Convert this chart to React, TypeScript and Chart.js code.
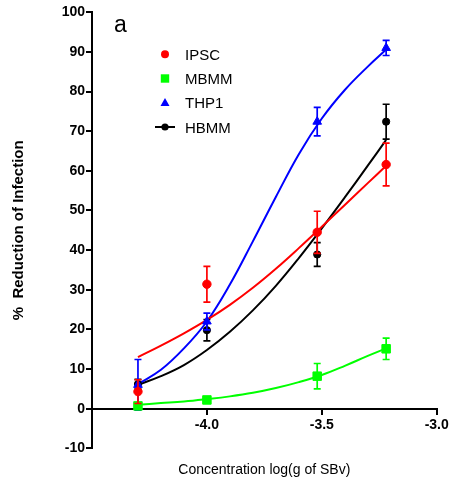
import React, { useEffect, useRef } from 'react';
import { Chart, registerables } from 'chart.js';

Chart.register(...registerables);

// ---- data ----
const doseX = [-4.3, -4.0, -3.52, -3.22];

const ipscMean = [4.3, 31.4, 44.5, 61.6];
const ipscErr = [3.0, 4.5, 5.3, 5.4];
const mbmmMean = [0.7, 2.2, 8.2, 15.1];
const mbmmErr = [0.5, 0.8, 3.2, 2.7];
const thp1Mean = [6.0, 22.0, 72.4, 91.0];
const thp1Err = [6.4, 2.1, 3.6, 1.9];
const hbmmMean = [6.2, 19.8, 38.9, 72.4];
const hbmmErr = [1.2, 2.7, 3.0, 4.4];

const curveX = [-4.3, -4.2, -4.1, -4.0, -3.9, -3.8, -3.7, -3.6, -3.5, -3.4, -3.3, -3.22];
const ipscCurve = [13.0, 15.9, 19.0, 22.4, 26.2, 30.5, 35.3, 40.5, 45.9, 51.4, 56.9, 61.3];
const mbmmCurve = [1.0, 1.4, 1.8, 2.4, 3.1, 4.0, 5.2, 6.7, 8.5, 10.8, 13.3, 15.2];
const thp1Curve = [6.2, 9.8, 15.2, 22.0, 31.3, 42.2, 53.4, 64.2, 73.2, 80.4, 86.3, 90.6];
const hbmmCurve = [6.0, 8.2, 11.0, 14.8, 19.4, 24.8, 31.0, 38.0, 45.5, 53.3, 61.3, 67.8];

const xTicks = [-4.0, -3.5, -3.0];
const yMin = -10;
const yMax = 100;
const yStep = 10;

const seriesNames = ['IPSC', 'MBMM', 'THP1', 'HBMM'];
const seriesColors = ['#ff0000', '#00ff00', '#0000ff', '#000000'];

const panelLabel = 'a';
const xTitle = 'Concentration log(g of SBv)';
const yTitle = '%  Reduction of Infection';

const FONT = '"Liberation Sans", Arial, Helvetica, sans-serif';

const toXY = (xs: number[], ys: number[]) => xs.map((x, i) => ({ x, y: ys[i] }));

const errorBarPlugin = {
  id: 'errorBars',
  beforeDatasetDraw(chart: any, args: any) {
    const ds = chart.data.datasets[args.index] as any;
    if (!ds.errors) return;
    const ctx = chart.ctx;
    const yScale = chart.scales.y;
    ctx.save();
    ctx.strokeStyle = ds.borderColor;
    ctx.lineWidth = 1.7;
    args.meta.data.forEach((pt: any, i: number) => {
      const mean = ds.data[i].y;
      const e = ds.errors[i];
      const yt = yScale.getPixelForValue(mean + e);
      const yb = yScale.getPixelForValue(mean - e);
      const x = pt.x;
      const cap = 3.5;
      ctx.beginPath();
      ctx.moveTo(x, yt);
      ctx.lineTo(x, yb);
      ctx.moveTo(x - cap, yt);
      ctx.lineTo(x + cap, yt);
      ctx.moveTo(x - cap, yb);
      ctx.lineTo(x + cap, yb);
      ctx.stroke();
    });
    ctx.restore();
  },
};

const textPlugin = {
  id: 'freeText',
  afterDraw(chart: any) {
    const ctx = chart.ctx;
    const area = chart.chartArea;
    ctx.save();
    ctx.fillStyle = '#000';

    // panel label
    ctx.font = `23px ${FONT}`;
    ctx.textAlign = 'center';
    ctx.textBaseline = 'alphabetic';
    ctx.fillText(panelLabel, 120.5, 31.5);

    // x title
    ctx.font = `14px ${FONT}`;
    ctx.textAlign = 'center';
    ctx.textBaseline = 'middle';
    ctx.fillText(xTitle, (area.left + area.right) / 2, 470);

    // y title
    ctx.save();
    ctx.translate(18.5, (area.top + area.bottom) / 2);
    ctx.rotate(-Math.PI / 2);
    ctx.font = `bold 15px ${FONT}`;
    ctx.textAlign = 'center';
    ctx.textBaseline = 'middle';
    ctx.fillText(yTitle, 0, 0);
    ctx.restore();

    // legend
    const rows = [54.3, 78.5, 102.7, 127.0];
    const mx = 165;
    ctx.font = `15px ${FONT}`;
    ctx.textAlign = 'left';
    ctx.textBaseline = 'alphabetic';
    seriesNames.forEach((name, i) => {
      const cy = rows[i];
      const col = seriesColors[i];
      ctx.fillStyle = col;
      ctx.strokeStyle = col;
      ctx.beginPath();
      if (i === 0) {
        ctx.arc(mx, cy, 4, 0, Math.PI * 2);
        ctx.fill();
      } else if (i === 1) {
        ctx.fillRect(mx - 4.2, cy - 4.2, 8.4, 8.4);
      } else if (i === 2) {
        ctx.moveTo(mx, cy - 4.8);
        ctx.lineTo(mx + 4.5, cy + 3.2);
        ctx.lineTo(mx - 4.5, cy + 3.2);
        ctx.closePath();
        ctx.fill();
      } else {
        ctx.lineWidth = 2;
        ctx.moveTo(mx - 10, cy);
        ctx.lineTo(mx + 10, cy);
        ctx.stroke();
        ctx.beginPath();
        ctx.arc(mx, cy, 3.6, 0, Math.PI * 2);
        ctx.fill();
      }
      ctx.fillStyle = '#000';
      ctx.fillText(name, 185, cy + 5.5);
    });
    ctx.restore();
  },
};

export default function App() {
  const ref = useRef<HTMLCanvasElement | null>(null);

  useEffect(() => {
    if (!ref.current) return;
    const means = [ipscMean, mbmmMean, thp1Mean, hbmmMean];
    const errs = [ipscErr, mbmmErr, thp1Err, hbmmErr];
    const curves = [ipscCurve, mbmmCurve, thp1Curve, hbmmCurve];
    const styles = ['circle', 'rect', 'triangle', 'circle'];
    const radii = [4.2, 6, 5, 3.6];

    const pointSets = seriesNames.map((name, i) => ({
      label: name,
      data: toXY(doseX, means[i]),
      errors: errs[i],
      showLine: false,
      pointStyle: styles[i],
      pointRadius: radii[i],
      pointBackgroundColor: seriesColors[i],
      pointBorderColor: seriesColors[i],
      pointBorderWidth: 1,
      borderColor: seriesColors[i],
      backgroundColor: seriesColors[i],
    }));
    const curveSets = seriesNames.map((name, i) => ({
      label: name + ' fit',
      data: toXY(curveX, curves[i]),
      showLine: true,
      pointRadius: 0,
      borderWidth: 2,
      borderColor: seriesColors[i],
      backgroundColor: seriesColors[i],
      tension: 0.4,
      fill: false,
    }));

    const chart = new Chart(ref.current, {
      type: 'scatter',
      data: { datasets: [...pointSets, ...curveSets] as any },
      plugins: [errorBarPlugin, textPlugin],
      options: {
        animation: false,
        responsive: false,
        devicePixelRatio: 1,
        layout: { padding: { top: 12.3, right: 12.3, bottom: 34.7, left: 0 } },
        plugins: { legend: { display: false }, tooltip: { enabled: false } },
        scales: {
          x: {
            type: 'linear',
            position: { y: 0 } as any,
            min: -4.5,
            max: -3.0,
            afterBuildTicks: (scale: any) => {
              scale.ticks = xTicks.map((v) => ({ value: v }));
            },
            afterFit: (scale: any) => {
              scale.paddingLeft = 0;
              scale.paddingRight = 0;
            },
            ticks: {
              color: '#000',
              font: { family: FONT, size: 14, weight: 'bold' },
              padding: 3,
              maxRotation: 0,
              autoSkip: false,
              callback: (v: any) => Number(v).toFixed(1),
            },
            grid: { drawOnChartArea: false, color: '#000', lineWidth: 2, tickLength: 5 },
            border: { display: true, color: '#000', width: 2 },
          },
          y: {
            type: 'linear',
            position: 'left',
            min: yMin,
            max: yMax,
            afterFit: (scale: any) => {
              scale.width = 92;
            },
            ticks: {
              stepSize: yStep,
              color: '#000',
              font: { family: FONT, size: 14, weight: 'bold' },
              padding: 1,
            },
            grid: { drawOnChartArea: false, color: '#000', lineWidth: 2, tickLength: 6 },
            border: { display: true, color: '#000', width: 2 },
          },
        },
      } as any,
    });
    return () => chart.destroy();
  }, []);

  return (
    <div style={{ position: 'absolute', left: 0, top: 0, width: 449, height: 483, background: '#fff' }}>
      <canvas ref={ref} width={449} height={483} style={{ display: 'block', width: 449, height: 483 }} />
    </div>
  );
}
